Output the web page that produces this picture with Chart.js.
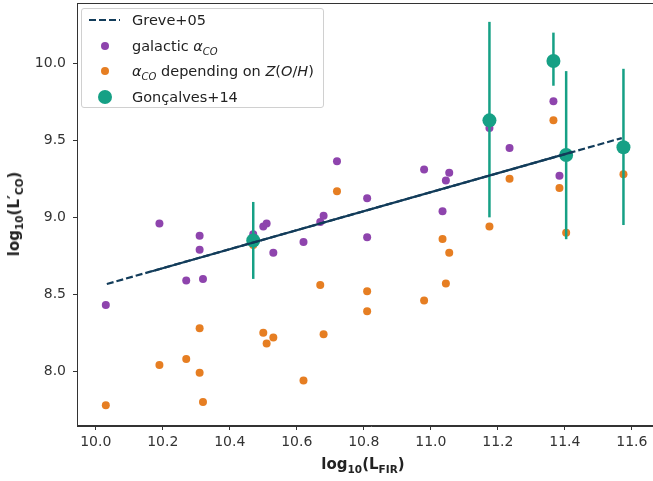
<!DOCTYPE html>
<html>
<head>
<meta charset="utf-8">
<script src="https://cdn.jsdelivr.net/npm/chart.js@4/dist/chart.umd.min.js"></script>
<style>
  body { margin: 0; background: #fff; }
  #wrap { position: relative; width: 653px; height: 481px; overflow: hidden; font-family: "DejaVu Sans", sans-serif; color: #222; }
  #chart { position: absolute; left: 0; top: -4px; }
  .ttl { position: absolute; font-weight: bold; font-size: 15px; white-space: nowrap; }
  .ttl sub { font-size: 10.5px; }
  #ytitle { left: 15px; top: 214px; transform: translate(-50%, -50%) rotate(-90deg); }
  #xtitle { left: 363px; top: 465px; transform: translate(-50%, -50%); }
  #legend { position: absolute; left: 81px; top: 8px; width: 243px; height: 100px; box-sizing: border-box;
            border: 1px solid #d0d0d0; border-radius: 3px; background: rgba(255,255,255,0.85); font-size: 14.5px; }
  .row { position: absolute; left: 0; height: 20px; line-height: 20px; white-space: nowrap; }
  .row .txt { position: absolute; left: 50px; }
  .row .txt sub { font-size: 10px; font-style: italic; }
  .dot { position: absolute; border-radius: 50%; }
</style>
</head>
<body>
<div id="wrap">
  <canvas id="chart" width="680" height="485"></canvas>
  <div id="ytitle" class="ttl">log<sub>10</sub>(L′<sub>CO</sub>)</div>
  <div id="xtitle" class="ttl">log<sub>10</sub>(L<sub>FIR</sub>)</div>
  <div id="legend">
    <div class="row" style="top:1px;">
      <svg width="40" height="20" style="position:absolute;left:7px;top:0;"><line x1="0" y1="10" x2="31" y2="10" stroke="#123c5a" stroke-width="2.2" stroke-dasharray="7,3"/></svg>
      <span class="txt">Greve+05</span>
    </div>
    <div class="row" style="top:26.5px;">
      <span class="dot" style="left:19px;top:6px;width:8px;height:8px;background:#8e44ad;"></span>
      <span class="txt">galactic <i>α</i><sub>CO</sub></span>
    </div>
    <div class="row" style="top:52px;">
      <span class="dot" style="left:19px;top:6px;width:8px;height:8px;background:#e67e22;"></span>
      <span class="txt"><i>α</i><sub>CO</sub> depending on <i>Z</i>(<i>O</i>/<i>H</i>)</span>
    </div>
    <div class="row" style="top:77.5px;">
      <span class="dot" style="left:16px;top:3px;width:14px;height:14px;background:#16a085;"></span>
      <span class="txt">Gonçalves+14</span>
    </div>
  </div>
</div>
<script>
// valeurs
const xTicks = [10.0, 10.2, 10.4, 10.6, 10.8, 11.0, 11.2, 11.4, 11.6];
const yTicks = [8.0, 8.5, 9.0, 9.5, 10.0];

const galX = [10.03, 10.19, 10.27, 10.31, 10.31, 10.32, 10.47, 10.50, 10.51, 10.53, 10.62, 10.67, 10.68, 10.72, 10.81, 10.81, 10.98, 11.035, 11.045, 11.055, 11.175, 11.235, 11.366, 11.384];
const galY = [8.43, 8.96, 8.59, 8.88, 8.79, 8.60, 8.89, 8.94, 8.96, 8.77, 8.84, 8.97, 9.01, 9.365, 9.124, 8.87, 9.31, 9.04, 9.24, 9.29, 9.58, 9.45, 9.755, 9.27];

const zX = [10.03, 10.19, 10.27, 10.31, 10.31, 10.32, 10.47, 10.50, 10.51, 10.53, 10.62, 10.67, 10.68, 10.72, 10.81, 10.81, 10.98, 11.035, 11.045, 11.055, 11.175, 11.235, 11.366, 11.384, 11.404, 11.575];
const zY = [7.78, 8.04, 8.08, 8.28, 7.99, 7.80, 8.82, 8.25, 8.18, 8.22, 7.94, 8.56, 8.24, 9.17, 8.52, 8.39, 8.46, 8.86, 8.57, 8.77, 8.94, 9.25, 9.63, 9.19, 8.90, 9.28];

const gonX = [10.47, 11.175, 11.366, 11.404, 11.575];
const gonY = [8.85, 9.63, 10.016, 9.405, 9.455];
const gonHi = [9.10, 10.27, 10.20, 9.95, 9.965];
const gonLo = [8.60, 9.00, 9.855, 8.858, 8.95];

const greveX = [10.033, 11.570];
const greveY = [8.567, 9.515];
const greveSolidX = [10.168, 11.424];
const greveSolidY = [8.650, 9.425];

const purple = '#8e44ad', orange = '#e67e22', green = '#16a085', navy = '#123c5a';

function pts(xs, ys) {
    return xs.map((x, i) => ({ x: x, y: ys[i] }));
}

// pas de marge automatique autour des axes
function noPad(s) {
    s.paddingTop = 0;
    s.paddingBottom = 0;
    s.paddingLeft = 0;
    s.paddingRight = 0;
}

// barres d'erreur dessinées juste avant les points verts
const errorBars = {
    id: 'errorBars',
    beforeDatasetDraw(chart, args) {
        if (args.index !== 2) return;
        const ctx = chart.ctx, xs = chart.scales.x, ys = chart.scales.y;
        ctx.save();
        ctx.strokeStyle = green;
        ctx.lineWidth = 2.5;
        for (let i = 0; i < gonX.length; i++) {
            const px = xs.getPixelForValue(gonX[i]);
            ctx.beginPath();
            ctx.moveTo(px, ys.getPixelForValue(gonLo[i]));
            ctx.lineTo(px, ys.getPixelForValue(gonHi[i]));
            ctx.stroke();
        }
        ctx.restore();
    }
};

// cadre autour de la zone du graphe
const frame = {
    id: 'frame',
    afterDraw(chart) {
        const a = chart.chartArea, ctx = chart.ctx;
        ctx.save();
        ctx.strokeStyle = '#333';
        ctx.lineWidth = 1;
        ctx.strokeRect(a.left + 0.5, a.top + 0.5, a.right - a.left - 1, a.bottom - a.top - 1);
        ctx.restore();
    }
};

new Chart(document.getElementById('chart').getContext('2d'), {
    type: 'scatter',
    data: {
        datasets: [
            { label: 'galactic', data: pts(galX, galY), backgroundColor: purple, borderWidth: 0, pointRadius: 4, order: 4 },
            { label: 'Z(O/H)', data: pts(zX, zY), backgroundColor: orange, borderWidth: 0, pointRadius: 4, order: 3 },
            { label: 'Gonçalves+14', data: pts(gonX, gonY), backgroundColor: green, borderWidth: 0, pointRadius: 7, order: 2 },
            { type: 'line', label: 'Greve+05', data: pts(greveX, greveY), borderColor: navy, borderWidth: 2.2,
              borderDash: [7, 3], pointRadius: 0, fill: false, order: 1 },
            { type: 'line', label: '', data: pts(greveSolidX, greveSolidY), borderColor: navy, borderWidth: 2.2,
              pointRadius: 0, fill: false, order: 0 }
        ]
    },
    options: {
        responsive: false,
        animation: false,
        layout: { padding: { top: 1, right: 15, left: 0, bottom: 0 } },
        plugins: { legend: { display: false }, tooltip: { enabled: false } },
        scales: {
            x: {
                type: 'linear', min: 9.944, max: 11.699,
                afterBuildTicks: s => { s.ticks = xTicks.map(v => ({ value: v })); },
                afterFit: s => { s.height = 55; noPad(s); },
                ticks: { callback: v => v.toFixed(1), color: '#333', font: { family: 'DejaVu Sans', size: 14 }, padding: 4, maxRotation: 0 },
                grid: { drawOnChartArea: false, tickLength: 4, color: '#333' },
                border: { color: '#333' }
            },
            y: {
                type: 'linear', min: 7.6444, max: 10.3925,
                afterBuildTicks: s => { s.ticks = yTicks.map(v => ({ value: v })); },
                afterFit: s => { s.width = 77; noPad(s); },
                ticks: { callback: v => v.toFixed(1), color: '#333', font: { family: 'DejaVu Sans', size: 14 }, padding: 7 },
                grid: { drawOnChartArea: false, tickLength: 4, color: '#333' },
                border: { color: '#333' }
            }
        }
    },
    plugins: [errorBars, frame]
});
</script>
</body>
</html>
